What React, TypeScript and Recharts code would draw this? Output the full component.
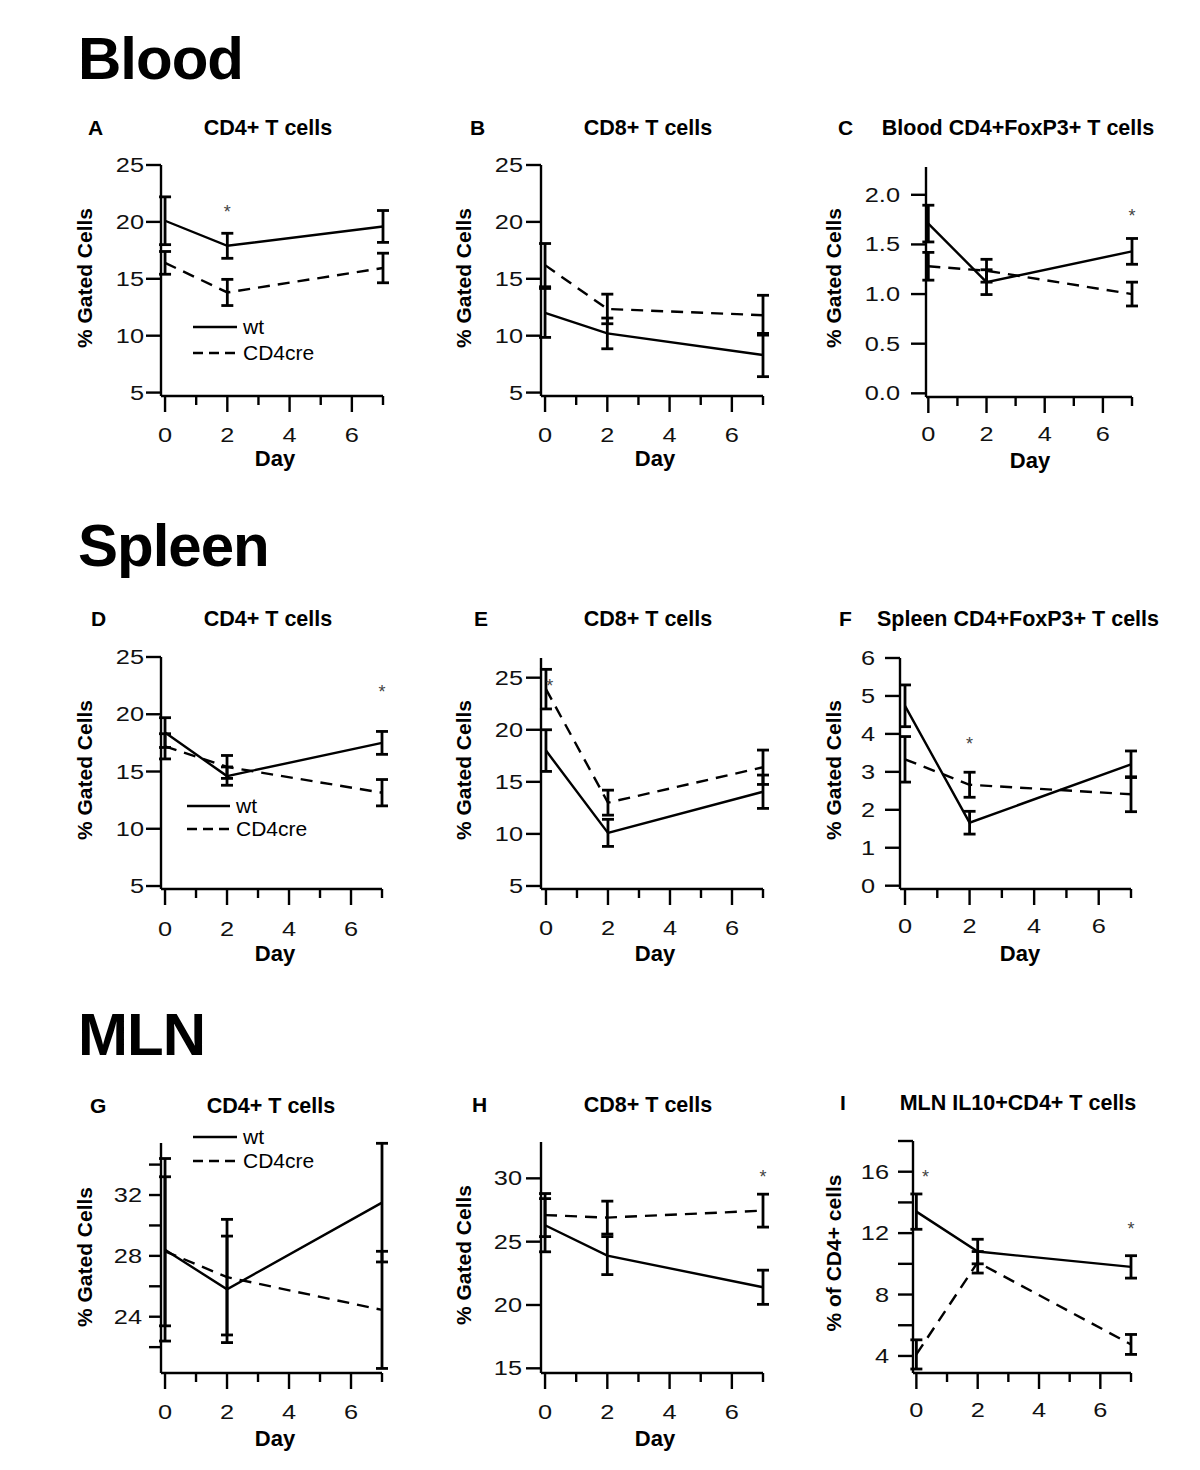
import { LineChart, Line, XAxis, YAxis, ErrorBar, ReferenceDot } from 'recharts';

const FONT = '"Liberation Sans", Arial, Helvetica, sans-serif';

const days = [0, 2, 7];
const dayTicks = [0, 1, 2, 3, 4, 5, 6, 7];

// A - blood CD4+
const bloodCd4Wt = [20.1, 17.9, 19.6];
const bloodCd4WtErr = [2.1, 1.1, 1.4];
const bloodCd4Cre = [16.4, 13.8, 15.95];
const bloodCd4CreErr = [1.0, 1.15, 1.3];
// B - blood CD8+
const bloodCd8Wt = [12.0, 10.2, 8.3];
const bloodCd8WtErr = [2.15, 1.35, 1.9];
const bloodCd8Cre = [16.2, 12.35, 11.8];
const bloodCd8CreErr = [1.9, 1.3, 1.75];
// C - blood FoxP3+
const bloodFoxWt = [1.71, 1.12, 1.43];
const bloodFoxWtErr = [0.185, 0.125, 0.13];
const bloodFoxCre = [1.28, 1.235, 1.0];
const bloodFoxCreErr = [0.14, 0.115, 0.12];
// D - spleen CD4+
const spleenCd4Wt = [18.4, 14.6, 17.5];
const spleenCd4WtErr = [1.3, 0.8, 1.0];
const spleenCd4Cre = [17.2, 15.4, 13.15];
const spleenCd4CreErr = [1.1, 1.0, 1.15];
// E - spleen CD8+
const spleenCd8Wt = [18.0, 10.1, 14.05];
const spleenCd8WtErr = [2.0, 1.3, 1.6];
const spleenCd8Cre = [23.9, 13.0, 16.4];
const spleenCd8CreErr = [1.9, 1.2, 1.65];
// F - spleen FoxP3+
const spleenFoxWt = [4.74, 1.66, 3.2];
const spleenFoxWtErr = [0.55, 0.3, 0.35];
const spleenFoxCre = [3.33, 2.66, 2.41];
const spleenFoxCreErr = [0.6, 0.33, 0.46];
// G - MLN CD4+
const mlnCd4Wt = [28.4, 25.8, 31.5];
const mlnCd4WtErr = [6.0, 3.5, 3.9];
const mlnCd4Cre = [28.3, 26.6, 24.45];
const mlnCd4CreErr = [4.9, 3.8, 3.85];
// H - MLN CD8+
const mlnCd8Wt = [26.3, 23.9, 21.4];
const mlnCd8WtErr = [2.1, 1.5, 1.35];
const mlnCd8Cre = [27.1, 26.9, 27.45];
const mlnCd8CreErr = [1.7, 1.3, 1.3];
// I - MLN IL10+
const mlnIl10Wt = [13.4, 10.8, 9.8];
const mlnIl10WtErr = [1.15, 0.8, 0.73];
const mlnIl10Cre = [4.1, 10.1, 4.75];
const mlnIl10CreErr = [0.95, 0.7, 0.65];

// significance marks (day, value)
const starsA = [{ day: 2, value: 21.2 }];
const starsC = [{ day: 7, value: 1.83 }];
const starsD = [{ day: 7, value: 22.3 }];
const starsE = [{ day: 0.12, value: 24.6 }];
const starsF = [{ day: 2, value: 3.85 }];
const starsH = [{ day: 7, value: 30.4 }];
const starsI = [{ day: 0.3, value: 15.9 }, { day: 7, value: 12.5 }];

type Star = { day: number; value: number };
type Panel = {
  left: number;
  top: number;
  w: number;
  h: number;
  xMin: number;
  yDomain: [number, number];
  yTicks: number[];
  yLabels: number[];
  decimals: number;
  gap: number;
  tickLen: number;
  xDy: number;
  wt: number[];
  wtErr: number[];
  cre: number[];
  creErr: number[];
  stars: Star[];
};

const t5 = [5, 10, 15, 20, 25];

const panels: Panel[] = [
  { left: 161, top: 165, w: 222, h: 231, xMin: -0.13, yDomain: [4.7, 25], yTicks: t5, yLabels: t5, decimals: 0, gap: 17, tickLen: 15, xDy: 46, wt: bloodCd4Wt, wtErr: bloodCd4WtErr, cre: bloodCd4Cre, creErr: bloodCd4CreErr, stars: starsA },
  { left: 541, top: 165, w: 222, h: 231, xMin: -0.13, yDomain: [4.7, 25], yTicks: t5, yLabels: t5, decimals: 0, gap: 18, tickLen: 15, xDy: 46, wt: bloodCd8Wt, wtErr: bloodCd8WtErr, cre: bloodCd8Cre, creErr: bloodCd8CreErr, stars: [] },
  { left: 926, top: 167, w: 206, h: 230, xMin: -0.08, yDomain: [-0.037, 2.28], yTicks: [0, 0.5, 1, 1.5, 2], yLabels: [0, 0.5, 1, 1.5, 2], decimals: 1, gap: 26, tickLen: 15, xDy: 44, wt: bloodFoxWt, wtErr: bloodFoxWtErr, cre: bloodFoxCre, creErr: bloodFoxCreErr, stars: starsC },
  { left: 161, top: 657, w: 221, h: 232, xMin: -0.13, yDomain: [4.74, 25], yTicks: t5, yLabels: t5, decimals: 0, gap: 17, tickLen: 15, xDy: 47, wt: spleenCd4Wt, wtErr: spleenCd4WtErr, cre: spleenCd4Cre, creErr: spleenCd4CreErr, stars: starsD },
  { left: 541, top: 658, w: 222, h: 231, xMin: -0.16, yDomain: [4.71, 26.89], yTicks: t5, yLabels: t5, decimals: 0, gap: 18, tickLen: 15, xDy: 46, wt: spleenCd8Wt, wtErr: spleenCd8WtErr, cre: spleenCd8Cre, creErr: spleenCd8CreErr, stars: starsE },
  { left: 900, top: 658, w: 231, h: 231, xMin: -0.155, yDomain: [-0.087, 6], yTicks: [0, 1, 2, 3, 4, 5, 6], yLabels: [0, 1, 2, 3, 4, 5, 6], decimals: 0, gap: 25, tickLen: 15, xDy: 44, wt: spleenFoxWt, wtErr: spleenFoxWtErr, cre: spleenFoxCre, creErr: spleenFoxCreErr, stars: starsF },
  { left: 161, top: 1143, w: 221, h: 230, xMin: -0.13, yDomain: [20.3, 35.42], yTicks: [22, 24, 26, 28, 30, 32, 34], yLabels: [24, 28, 32], decimals: 0, gap: 19, tickLen: 12, xDy: 46, wt: mlnCd4Wt, wtErr: mlnCd4WtErr, cre: mlnCd4Cre, creErr: mlnCd4CreErr, stars: [] },
  { left: 541, top: 1142, w: 222, h: 231, xMin: -0.13, yDomain: [14.63, 32.87], yTicks: [15, 20, 25, 30], yLabels: [15, 20, 25, 30], decimals: 0, gap: 19, tickLen: 15, xDy: 46, wt: mlnCd8Wt, wtErr: mlnCd8WtErr, cre: mlnCd8Cre, creErr: mlnCd8CreErr, stars: starsH },
  { left: 913, top: 1141, w: 218, h: 232, xMin: -0.11, yDomain: [2.89, 18], yTicks: [4, 6, 8, 10, 12, 14, 16, 18], yLabels: [4, 8, 12, 16], decimals: 0, gap: 24, tickLen: 15, xDy: 44, wt: mlnIl10Wt, wtErr: mlnIl10WtErr, cre: mlnIl10Cre, creErr: mlnIl10CreErr, stars: starsI },
];

const panelText = [
  { letter: 'A', lx: 88, title: 'CD4+ T cells', tx: 268, ty: 135, yl: '% Gated Cells', ylx: 92, yly: 278, dayX: 275, dayY: 466 },
  { letter: 'B', lx: 470, title: 'CD8+ T cells', tx: 648, ty: 135, yl: '% Gated Cells', ylx: 471, yly: 278, dayX: 655, dayY: 466 },
  { letter: 'C', lx: 838, title: 'Blood CD4+FoxP3+ T cells', tx: 1018, ty: 135, yl: '% Gated Cells', ylx: 841, yly: 278, dayX: 1030, dayY: 468 },
  { letter: 'D', lx: 91, title: 'CD4+ T cells', tx: 268, ty: 626, yl: '% Gated Cells', ylx: 92, yly: 770, dayX: 275, dayY: 961 },
  { letter: 'E', lx: 474, title: 'CD8+ T cells', tx: 648, ty: 626, yl: '% Gated Cells', ylx: 471, yly: 770, dayX: 655, dayY: 961 },
  { letter: 'F', lx: 839, title: 'Spleen CD4+FoxP3+ T cells', tx: 1018, ty: 626, yl: '% Gated Cells', ylx: 841, yly: 770, dayX: 1020, dayY: 961 },
  { letter: 'G', lx: 90, title: 'CD4+ T cells', tx: 271, ty: 1113, yl: '% Gated Cells', ylx: 92, yly: 1257, dayX: 275, dayY: 1446 },
  { letter: 'H', lx: 472, title: 'CD8+ T cells', tx: 648, ty: 1112, yl: '% Gated Cells', ylx: 471, yly: 1255, dayX: 655, dayY: 1446 },
  { letter: 'I', lx: 840, title: 'MLN IL10+CD4+ T cells', tx: 1018, ty: 1110, yl: '% of CD4+ cells', ylx: 841, yly: 1253, dayX: 0, dayY: 0 },
];

const legends = [
  { x1: 193, x2: 237, wtY: 327, creY: 353 },
  { x1: 187, x2: 230, wtY: 806, creY: 829 },
  { x1: 193, x2: 237, wtY: 1137, creY: 1161 },
];

const ML = 90;
const MR = 20;
const MT = 12;
const MB = 60;
const STROKE = 2.4;

function XTick(props: any) {
  const { x, y, payload, dy } = props;
  const v = payload.value;
  const major = v % 2 === 0;
  return (
    <g>
      <line x1={x} x2={x} y1={y} y2={y + (major ? 16 : 9)} stroke="#000" strokeWidth={STROKE} />
      {major && (
        <text
          transform={`translate(${x},${y + dy}) scale(1.3,1)`}
          textAnchor="middle"
          fontSize={19.5}
          fontFamily={FONT}
          fill="#111"
        >
          {v}
        </text>
      )}
    </g>
  );
}

function YTick(props: any) {
  const { x, y, payload, labels, gap, len, decimals } = props;
  const v = payload.value;
  return (
    <g>
      <line x1={x - len} x2={x} y1={y} y2={y} stroke="#000" strokeWidth={STROKE} />
      {labels.includes(v) && (
        <text
          transform={`translate(${x - gap},${y + 7}) scale(1.3,1)`}
          textAnchor="end"
          fontSize={19.5}
          fontFamily={FONT}
          fill="#111"
        >
          {v.toFixed(decimals)}
        </text>
      )}
    </g>
  );
}

function PanelChart({ p }: { p: Panel }) {
  const data = days.map((d, i) => ({
    day: d,
    wt: p.wt[i],
    wtErr: p.wtErr[i],
    cre: p.cre[i],
    creErr: p.creErr[i],
  }));
  return (
    <div style={{ position: 'absolute', left: p.left - ML, top: p.top - MT }}>
      <LineChart
        width={ML + p.w + MR}
        height={MT + p.h + MB}
        data={data}
        margin={{ top: MT, right: MR, bottom: 0, left: 0 }}
      >
        <XAxis
          type="number"
          dataKey="day"
          domain={[p.xMin, 7]}
          ticks={dayTicks}
          interval={0}
          height={MB}
          tickSize={0}
          tickMargin={0}
          tickLine={false}
          axisLine={{ stroke: '#000', strokeWidth: STROKE }}
          tick={(tp: any) => <XTick x={tp.x} y={tp.y} payload={tp.payload} dy={p.xDy} />}
        />
        <YAxis
          type="number"
          domain={p.yDomain}
          ticks={p.yTicks}
          interval={0}
          width={ML}
          tickSize={0}
          tickMargin={0}
          tickLine={false}
          axisLine={{ stroke: '#000', strokeWidth: STROKE }}
          tick={(tp: any) => (
            <YTick
              x={tp.x}
              y={tp.y}
              payload={tp.payload}
              labels={p.yLabels}
              gap={p.gap}
              len={p.tickLen}
              decimals={p.decimals}
            />
          )}
        />
        <Line
          type="linear"
          dataKey="cre"
          stroke="#000"
          strokeWidth={STROKE}
          strokeDasharray="12 8"
          dot={false}
          activeDot={false}
          isAnimationActive={false}
        >
          <ErrorBar dataKey="creErr" direction="y" width={6} stroke="#000" strokeWidth={2.8} />
        </Line>
        <Line
          type="linear"
          dataKey="wt"
          stroke="#000"
          strokeWidth={STROKE}
          dot={false}
          activeDot={false}
          isAnimationActive={false}
        >
          <ErrorBar dataKey="wtErr" direction="y" width={6} stroke="#000" strokeWidth={2.8} />
        </Line>
        {p.stars.map((s, i) => (
          <ReferenceDot
            key={i}
            x={s.day}
            y={s.value}
            r={0}
            ifOverflow="visible"
            shape={(sp: any) => (
              <text x={sp.cx} y={sp.cy + 10} textAnchor="middle" fontSize={18} fontFamily={FONT} fill="#444">
                *
              </text>
            )}
          />
        ))}
      </LineChart>
    </div>
  );
}

export default function App() {
  return (
    <div style={{ position: 'absolute', left: 0, top: 0, width: 1200, height: 1470, background: '#fff' }}>
      {panels.map((p, i) => (
        <PanelChart key={i} p={p} />
      ))}
      <svg
        width={1200}
        height={1470}
        style={{ position: 'absolute', left: 0, top: 0, pointerEvents: 'none' }}
        fontFamily={FONT}
      >
        <text x={78} y={79} fontSize={60} fontWeight="bold" letterSpacing={-1}>Blood</text>
        <text x={78} y={566} fontSize={60} fontWeight="bold" letterSpacing={-1}>Spleen</text>
        <text x={78} y={1055} fontSize={60} fontWeight="bold" letterSpacing={-1}>MLN</text>
        {panelText.map((t) => (
          <g key={t.letter}>
            <text x={t.lx} y={t.ty} fontSize={21} fontWeight="bold">{t.letter}</text>
            <text x={t.tx} y={t.ty} fontSize={21.5} fontWeight="bold" textAnchor="middle">{t.title}</text>
            <text
              x={t.ylx}
              y={t.yly}
              fontSize={21}
              fontWeight="bold"
              textAnchor="middle"
              transform={`rotate(-90 ${t.ylx} ${t.yly})`}
            >
              {t.yl}
            </text>
            {t.dayX > 0 && (
              <text x={t.dayX} y={t.dayY} fontSize={22} fontWeight="bold" textAnchor="middle">Day</text>
            )}
          </g>
        ))}
        {legends.map((l, i) => (
          <g key={i}>
            <line x1={l.x1} x2={l.x2} y1={l.wtY} y2={l.wtY} stroke="#000" strokeWidth={STROKE} />
            <text x={l.x2 + 6} y={l.wtY + 7} fontSize={21}>wt</text>
            <line x1={l.x1} x2={l.x2} y1={l.creY} y2={l.creY} stroke="#000" strokeWidth={STROKE} strokeDasharray="10 6" />
            <text x={l.x2 + 6} y={l.creY + 7} fontSize={21}>CD4cre</text>
          </g>
        ))}
      </svg>
    </div>
  );
}
